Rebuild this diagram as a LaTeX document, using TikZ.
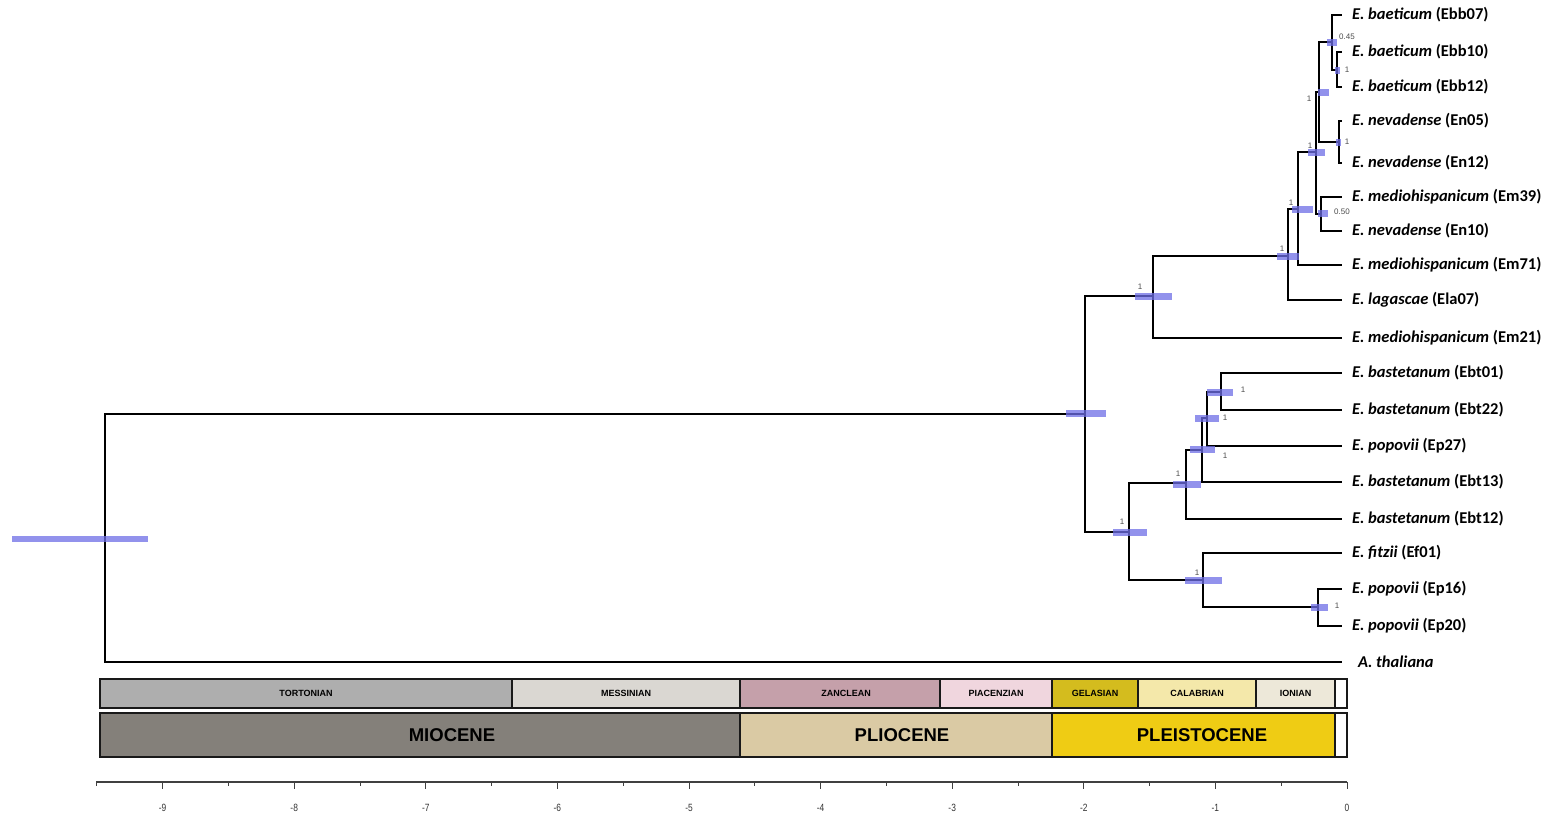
\documentclass[tikz,border=0pt]{standalone}
\usepackage{fontspec}
\setmainfont{Carlito}
\newfontfamily\geofont{Liberation Sans}
\newfontfamily\axfont[FakeStretch=0.8]{Liberation Sans}
\usepackage{tikz}
\usetikzlibrary{positioning}
\definecolor{tortonian}{RGB}{174,174,174}
\definecolor{messinian}{RGB}{218,215,210}
\definecolor{zanclean}{RGB}{197,160,170}
\definecolor{piacenzian}{RGB}{240,214,222}
\definecolor{gelasian}{RGB}{212,188,30}
\definecolor{calabrian}{RGB}{244,232,170}
\definecolor{ionian}{RGB}{237,232,217}
\definecolor{miocene}{RGB}{132,128,122}
\definecolor{pliocene}{RGB}{218,202,164}
\definecolor{pleistocene}{RGB}{239,204,20}
\definecolor{hpdblue}{RGB}{110,110,230}

\begin{document}
\begin{tikzpicture}[x=1pt,y=-1pt,
    branch/.style={line width=2.9pt},
    taxon/.style={anchor=west,inner sep=0pt,outer xsep=10pt,font=\fontsize{16.5}{18}\selectfont\bfseries},
    hpd/.style={fill=hpdblue,fill opacity=0.75},
    pp/.style={inner sep=0pt,text=black!70,font=\geofont\fontsize{8}{9}\selectfont},
    stagebox/.style={draw=black!90,line width=2.3pt},
    stagelbl/.style={inner sep=0pt,font=\geofont\bfseries\fontsize{9}{10}\selectfont},
    epochlbl/.style={inner sep=0pt,font=\geofont\bfseries\fontsize{18.5}{20}\selectfont},
    ticklbl/.style={inner sep=0pt,text=black!80,font=\axfont\fontsize{10.5}{11}\selectfont}]
  \useasboundingbox (0,0) rectangle (1550,818);

  % internal nodes of the tree
  \coordinate (root) at (105,536);
  \coordinate (eryth) at (1085,414);
  \coordinate (nclade) at (1153,296);
  \coordinate (lag) at (1288,256);
  \coordinate (m71) at (1298,209);
  \coordinate (bn) at (1316,152);
  \coordinate (bne) at (1319,92);
  \coordinate (baet) at (1332,42);
  \coordinate (baet2) at (1337,70);
  \coordinate (nev) at (1339,142);
  \coordinate (mn) at (1321,214);
  \coordinate (sclade) at (1129,532);
  \coordinate (bast) at (1186,483);
  \coordinate (bast2) at (1202,450);
  \coordinate (bast3) at (1207,418);
  \coordinate (bast4) at (1221,392);
  \coordinate (pop) at (1203,580);
  \coordinate (pop2) at (1318,607);

  % tips
  \node[taxon] (ebb07) at (1342,15) {\textit{E. baeticum} (Ebb07)};
  \node[taxon] (ebb10) at (1342,52) {\textit{E. baeticum} (Ebb10)};
  \node[taxon] (ebb12) at (1342,87) {\textit{E. baeticum} (Ebb12)};
  \node[taxon] (en05) at (1342,121) {\textit{E. nevadense} (En05)};
  \node[taxon] (en12) at (1342,163) {\textit{E. nevadense} (En12)};
  \node[taxon] (em39) at (1342,197) {\textit{E. mediohispanicum} (Em39)};
  \node[taxon] (en10) at (1342,231) {\textit{E. nevadense} (En10)};
  \node[taxon] (em71) at (1342,265) {\textit{E. mediohispanicum} (Em71)};
  \node[taxon] (ela07) at (1342,300) {\textit{E. lagascae} (Ela07)};
  \node[taxon] (em21) at (1342,338) {\textit{E. mediohispanicum} (Em21)};
  \node[taxon] (ebt01) at (1342,373) {\textit{E. bastetanum} (Ebt01)};
  \node[taxon] (ebt22) at (1342,410) {\textit{E. bastetanum} (Ebt22)};
  \node[taxon] (ep27) at (1342,446) {\textit{E. popovii} (Ep27)};
  \node[taxon] (ebt13) at (1342,482) {\textit{E. bastetanum} (Ebt13)};
  \node[taxon] (ebt12) at (1342,519) {\textit{E. bastetanum} (Ebt12)};
  \node[taxon] (ef01) at (1342,553) {\textit{E. fitzii} (Ef01)};
  \node[taxon] (ep16) at (1342,589) {\textit{E. popovii} (Ep16)};
  \node[taxon] (ep20) at (1342,626) {\textit{E. popovii} (Ep20)};
  \node[taxon,outer xsep=16pt] (atha) at (1342,662) {\textit{A. thaliana}};

  % branches
  \draw[branch] (root) |- (eryth);
  \draw[branch] (root) |- (atha.west);
  \draw[branch] (eryth) |- (nclade);
  \draw[branch] (eryth) |- (sclade);
  \draw[branch] (nclade) |- (lag);
  \draw[branch] (nclade) |- (em21.west);
  \draw[branch] (lag) |- (m71);
  \draw[branch] (lag) |- (ela07.west);
  \draw[branch] (m71) |- (bn);
  \draw[branch] (m71) |- (em71.west);
  \draw[branch] (bn) |- (bne);
  \draw[branch] (bn) |- (mn);
  \draw[branch] (bne) |- (baet);
  \draw[branch] (bne) |- (nev);
  \draw[branch] (baet) |- (ebb07.west);
  \draw[branch] (baet) |- (baet2);
  \draw[branch] (baet2) |- (ebb10.west);
  \draw[branch] (baet2) |- (ebb12.west);
  \draw[branch] (nev) |- (en05.west);
  \draw[branch] (nev) |- (en12.west);
  \draw[branch] (mn) |- (em39.west);
  \draw[branch] (mn) |- (en10.west);
  \draw[branch] (sclade) |- (bast);
  \draw[branch] (sclade) |- (pop);
  \draw[branch] (bast) |- (bast2);
  \draw[branch] (bast) |- (ebt12.west);
  \draw[branch] (bast2) |- (bast3);
  \draw[branch] (bast2) |- (ebt13.west);
  \draw[branch] (bast3) |- (bast4);
  \draw[branch] (bast3) |- (ep27.west);
  \draw[branch] (bast4) |- (ebt01.west);
  \draw[branch] (bast4) |- (ebt22.west);
  \draw[branch] (pop) |- (ef01.west);
  \draw[branch] (pop) |- (pop2);
  \draw[branch] (pop2) |- (ep16.west);
  \draw[branch] (pop2) |- (ep20.west);

  % 95% HPD bars
  \fill[hpd] (12,536) rectangle (148,542);
  \fill[hpd] (1066,410) rectangle (1106,417);
  \fill[hpd] (1135,293) rectangle (1172,300);
  \fill[hpd] (1277,253) rectangle (1299,260);
  \fill[hpd] (1292,206) rectangle (1313,213);
  \fill[hpd] (1308,149) rectangle (1325,156);
  \fill[hpd] (1318,89) rectangle (1329,96);
  \fill[hpd] (1327,39) rectangle (1337,46);
  \fill[hpd] (1335,67) rectangle (1340,74);
  \fill[hpd] (1336,139) rectangle (1341,146);
  \fill[hpd] (1318,210) rectangle (1328,217);
  \fill[hpd] (1113,529) rectangle (1147,536);
  \fill[hpd] (1173,481) rectangle (1201,488);
  \fill[hpd] (1190,446) rectangle (1215,453);
  \fill[hpd] (1195,415) rectangle (1219,422);
  \fill[hpd] (1207,389) rectangle (1233,396);
  \fill[hpd] (1185,577) rectangle (1222,584);
  \fill[hpd] (1311,604) rectangle (1328,611);

  % posterior probabilities
  \node[pp] (ppnclade) at (1140,287) {1};
  \node[pp] (pplag) at (1282,249) {1};
  \node[pp] (ppm71) at (1291,203) {1};
  \node[pp] (ppbn) at (1310,146) {1};
  \node[pp] (ppbne) at (1309,99) {1};
  \node[pp] (ppbaet) at (1347,37) {0.45};
  \node[pp] (ppbaet2) at (1347,70) {1};
  \node[pp] (ppnev) at (1347,142) {1};
  \node[pp] (ppmn) at (1342,212) {0.50};
  \node[pp] (ppsclade) at (1122,522) {1};
  \node[pp] (ppbast) at (1178,474) {1};
  \node[pp] (ppbast2) at (1225,456) {1};
  \node[pp] (ppbast3) at (1225,418) {1};
  \node[pp] (ppbast4) at (1243,390) {1};
  \node[pp] (pppop) at (1197,573) {1};
  \node[pp] (pppop2) at (1337,606) {1};

  % geological time scale
  \draw[stagebox,fill=tortonian] (100,679) rectangle (512,708);
  \draw[stagebox,fill=messinian] (512,679) rectangle (740,708);
  \draw[stagebox,fill=zanclean] (740,679) rectangle (940,708);
  \draw[stagebox,fill=piacenzian] (940,679) rectangle (1052,708);
  \draw[stagebox,fill=gelasian] (1052,679) rectangle (1138,708);
  \draw[stagebox,fill=calabrian] (1138,679) rectangle (1256,708);
  \draw[stagebox,fill=ionian] (1256,679) rectangle (1335,708);
  \draw[stagebox,fill=white] (1335,679) rectangle (1347,708);
  \node[stagelbl] (tort) at (306,693.5) {TORTONIAN};
  \node[stagelbl] (mess) at (626,693.5) {MESSINIAN};
  \node[stagelbl] (zanc) at (846,693.5) {ZANCLEAN};
  \node[stagelbl] (piac) at (996,693.5) {PIACENZIAN};
  \node[stagelbl] (gela) at (1095,693.5) {GELASIAN};
  \node[stagelbl] (cala) at (1197,693.5) {CALABRIAN};
  \node[stagelbl] (ioni) at (1295.5,693.5) {IONIAN};
  \draw[stagebox,fill=miocene] (100,713) rectangle (740,757);
  \draw[stagebox,fill=pliocene] (740,713) rectangle (1052,757);
  \draw[stagebox,fill=pleistocene] (1052,713) rectangle (1335,757);
  \draw[stagebox,fill=white] (1335,713) rectangle (1347,757);
  \node[epochlbl] (mioc) at (452,735) {MIOCENE};
  \node[epochlbl] (plio) at (902,735) {PLIOCENE};
  \node[epochlbl] (plei) at (1202,735) {PLEISTOCENE};

  % time axis (Ma)
  \draw[line width=1.2pt,black!75] (96,782) -- (1347,782);
  \foreach \t in {0,...,9}
    \draw[line width=1pt,black!75] (1347-131.6*\t,782) -- ++(0,7);
  \foreach \t in {0,...,9}
    \draw[line width=1pt,black!75] (1347-131.6*\t-65.8,782) -- ++(0,3.5);
  \node[ticklbl] (t0) at (1347,808) {0};
  \foreach \t in {1,...,9}
    \node[ticklbl] (t\t) at (1347-131.6*\t,808) {-\t};
\end{tikzpicture}
\end{document}
